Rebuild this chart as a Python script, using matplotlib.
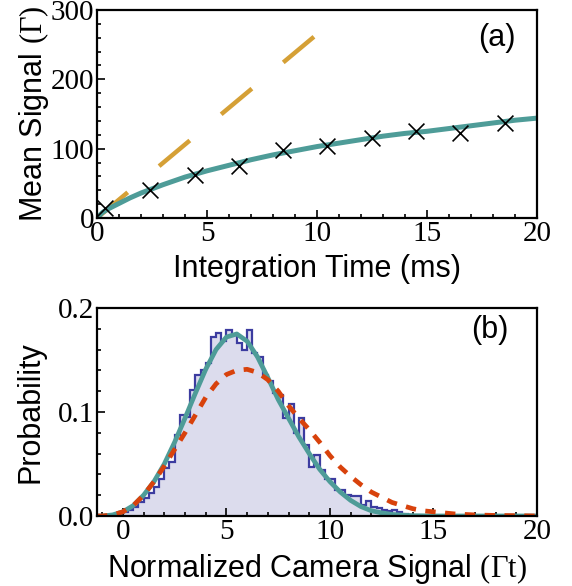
# camera signal figure: (a) mean signal vs integration time, (b) signal histogram

import numpy as np
import matplotlib.pyplot as plt

plt.rcParams['mathtext.fontset'] = 'custom'
plt.rcParams['mathtext.rm'] = 'Liberation Serif'
plt.rcParams['mathtext.it'] = 'Liberation Serif:italic'

# ---- panel (a) data ----
meas_t = [0.35, 2.4, 4.45, 6.45, 8.45, 10.45, 12.5, 14.5, 16.5, 18.55]
meas_signal = [14, 40, 62, 75, 98, 104, 115, 125, 123, 137]

fit_t = [0, 0.25, 0.5, 1, 1.5, 2, 3, 4, 5, 6, 7, 8, 9, 10, 11, 12, 13, 14, 15, 16, 17, 18, 19, 20]
fit_signal = [0, 8, 13, 21, 29, 36, 48, 59, 68, 76, 84, 91, 97, 103, 108, 113, 118, 122, 125, 129, 133, 137, 141, 144]

linear_t = [0, 10]
linear_signal = [0, 265]

# ---- panel (b) data ----
hist_start = -0.25
hist_width = 0.25
hist_prob = [0.002, 0.004, 0.006, 0.009, 0.013, 0.017, 0.022, 0.028, 0.036, 0.046,
             0.052, 0.078, 0.097, 0.095, 0.121, 0.136, 0.140, 0.147, 0.172, 0.176,
             0.168, 0.179, 0.174, 0.166, 0.160, 0.179, 0.157, 0.153, 0.136, 0.130,
             0.118, 0.116, 0.094, 0.108, 0.080, 0.094, 0.068, 0.047, 0.059, 0.044,
             0.036, 0.036, 0.025, 0.025, 0.020, 0.019, 0.019, 0.011, 0.014, 0.009,
             0.008, 0.006, 0.005, 0.006, 0.004, 0.002, 0.001]

teal_x = [-1.25, -1, -0.5, 0, 0.5, 1, 1.5, 2, 2.5, 3, 3.5, 4, 4.5, 5, 5.5, 6, 6.5, 7,
          7.5, 8, 8.5, 9, 9.5, 10, 10.5, 11, 11.5, 12, 12.5, 13, 13.5, 14, 15, 16, 17, 18, 19, 20]
teal_p = [0.0, 0.0, 0.001, 0.004, 0.010, 0.020, 0.033, 0.050, 0.071, 0.094, 0.118, 0.141,
          0.160, 0.172, 0.175, 0.168, 0.153, 0.133, 0.112, 0.094, 0.076, 0.060, 0.045, 0.033,
          0.023, 0.015, 0.009, 0.005, 0.003, 0.0015, 0.0008, 0.0003, 0.0, 0.0, 0.0, 0.0, 0.0, 0.0]

red_x = [-1.25, -1, -0.5, 0, 0.5, 1, 1.5, 2, 2.5, 3, 3.5, 4, 4.5, 5, 5.5, 6, 6.5, 7,
         7.5, 8, 8.5, 9, 9.5, 10, 10.5, 11, 11.5, 12, 12.5, 13, 13.5, 14, 14.5, 15,
         15.5, 16, 17, 18, 19, 20]
red_p = [0.0, 0.0, 0.001, 0.004, 0.010, 0.020, 0.033, 0.048, 0.064, 0.080, 0.097, 0.114,
         0.127, 0.136, 0.140, 0.141, 0.138, 0.131, 0.120, 0.106, 0.094, 0.083, 0.071, 0.058,
         0.047, 0.038, 0.030, 0.023, 0.018, 0.013, 0.010, 0.007, 0.005, 0.004,
         0.003, 0.002, 0.001, 0.0005, 0.0003, 0.0]

teal = '#4e9c98'
gold = '#d5a036'
red = '#d8420c'
navy = '#3c3ca0'
lavender = '#dcdced'

sans = 'Liberation Sans'
serif = 'Liberation Serif'
lab_size = 22
tick_size = 21

fig = plt.figure(figsize=(5.72, 5.86), dpi=100)
ax_a = fig.add_axes([0.1696, 0.628, 0.7692, 0.355])
ax_b = fig.add_axes([0.1696, 0.1195, 0.7692, 0.355])

# ---- (a) ----
ax_a.plot(linear_t, linear_signal, color=gold, lw=3.2, dashes=(9, 9.2), solid_capstyle='butt')
ax_a.plot(fit_t, fit_signal, color=teal, lw=3.6)
ax_a.scatter(meas_t, meas_signal, marker='x', s=130, color='black', linewidths=1.2, zorder=3)
ax_a.set_xlim(0, 20)
ax_a.set_ylim(0, 300)
ax_a.set_xticks([0, 5, 10, 15, 20])
ax_a.set_xticks(np.arange(0, 21, 1), minor=True)
ax_a.set_yticks([0, 100, 200, 300])
ax_a.set_yticks(np.arange(0, 301, 20), minor=True)
ax_a.set_xlabel('Integration Time (ms)', fontsize=lab_size, family=sans, labelpad=5)
ax_a.set_ylabel(r'Mean Signal $\mathrm{(\Gamma)}$', fontsize=lab_size, family=sans, labelpad=0)
ax_a.text(0.909, 0.865, '(a)', transform=ax_a.transAxes, fontsize=lab_size, family=sans,
          ha='center', va='center')

# ---- (b) ----
edges = hist_start + hist_width * np.arange(len(hist_prob) + 1)
ax_b.stairs(hist_prob, edges, fill=True, color=lavender)
ax_b.stairs(hist_prob, edges, color=navy, lw=1.6)
ax_b.plot(teal_x, teal_p, color=teal, lw=3.4)
ax_b.plot(red_x, red_p, color=red, lw=3.4, dashes=(2.2, 2.0))
ax_b.set_xlim(-1.25, 20)
ax_b.set_ylim(0, 0.2)
ax_b.set_xticks([0, 5, 10, 15, 20])
ax_b.set_xticks(np.arange(-1, 21, 1), minor=True)
ax_b.set_yticks([0.0, 0.1, 0.2])
ax_b.set_yticklabels(['0.0', '0.1', '0.2'])
ax_b.set_yticks(np.arange(0, 0.201, 0.02), minor=True)
ax_b.set_xlabel(r'Normalized Camera Signal $\mathrm{(\Gamma t)}$', fontsize=lab_size, family=sans, labelpad=5)
ax_b.set_ylabel('Probability', fontsize=lab_size, family=sans, labelpad=9)
ax_b.text(0.893, 0.894, '(b)', transform=ax_b.transAxes, fontsize=lab_size, family=sans,
          ha='center', va='center')

for ax in (ax_a, ax_b):
    for sp in ax.spines.values():
        sp.set_linewidth(1.6)
    ax.tick_params(which='both', direction='in', top=False, right=False, width=1.2)
    ax.tick_params(which='major', length=6, labelsize=tick_size, pad=2)
    ax.tick_params(which='minor', length=3)
    for lab in ax.get_xticklabels() + ax.get_yticklabels():
        lab.set_family(serif)

fig.savefig('out.png', dpi=100)
plt.close(fig)
